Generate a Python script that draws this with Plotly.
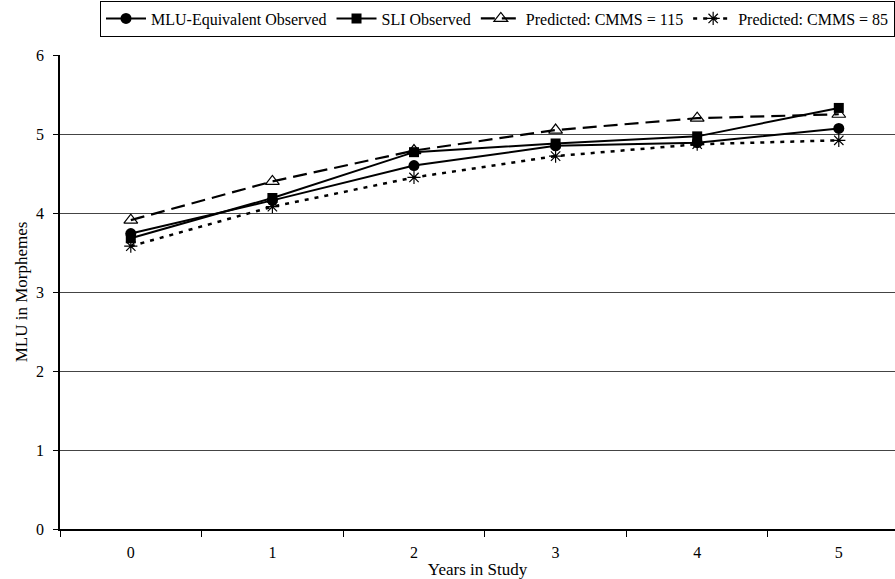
import plotly.graph_objects as go

years = ["0", "1", "2", "3", "4", "5"]
mlu_equiv = [3.74, 4.16, 4.60, 4.85, 4.89, 5.07]
sli_obs = [3.68, 4.19, 4.77, 4.88, 4.97, 5.33]
pred_115 = [3.91, 4.40, 4.79, 5.05, 5.20, 5.25]
pred_85 = [3.58, 4.08, 4.45, 4.72, 4.87, 4.92]

FONT = "Liberation Serif"

fig = go.Figure()
fig.add_trace(go.Scatter(x=years, y=mlu_equiv, name="MLU-Equivalent Observed",
                         mode="lines+markers",
                         line=dict(color="black", width=2),
                         marker=dict(symbol="circle", size=11, color="black")))
fig.add_trace(go.Scatter(x=years, y=sli_obs, name="SLI Observed",
                         mode="lines+markers",
                         line=dict(color="black", width=2),
                         marker=dict(symbol="square", size=10, color="black")))
fig.add_trace(go.Scatter(x=years, y=pred_115, name="Predicted: CMMS = 115",
                         mode="lines+markers",
                         line=dict(color="black", width=2.2, dash="14px,7px"),
                         marker=dict(symbol="triangle-up-open", size=12, color="black",
                                     line=dict(width=1.2, color="black"))))
fig.add_trace(go.Scatter(x=years, y=pred_85, name="Predicted: CMMS = 85",
                         mode="lines+markers",
                         line=dict(color="black", width=2.5, dash="4px,6px"),
                         marker=dict(symbol="asterisk-open", size=11, color="black",
                                     line=dict(width=1.2, color="black"))))

fig.update_layout(
    width=895, height=579,
    margin=dict(l=60, r=0, t=54.5, b=50, autoexpand=False),
    paper_bgcolor="white", plot_bgcolor="white",
    font=dict(family=FONT, size=16, color="black"),
    showlegend=True,
    legend=dict(orientation="h", x=1.0, xanchor="right", y=1 - 18.5 / 579, yanchor="middle",
                yref="container", xref="paper",
                bordercolor="black", borderwidth=1, bgcolor="white",
                font=dict(family=FONT, size=16), tracegroupgap=0,
                itemwidth=40),
    xaxis=dict(type="category", range=[-0.5, 5.397],
               tickson="boundaries", ticks="outside", ticklen=6,
               tickcolor="black", showline=True, linecolor="black", linewidth=1.5,
               showgrid=False, zeroline=False, ticklabelstandoff=8,
               title=dict(text="Years in Study", font=dict(family=FONT, size=17), standoff=4),
               tickfont=dict(family=FONT, size=16)),
    yaxis=dict(range=[0, 6], dtick=1, tick0=0, ticks="outside", ticklen=5,
               tickcolor="black", showline=True, linecolor="black", linewidth=1.5,
               showgrid=True, gridcolor="#444444", gridwidth=1, zeroline=False,
               ticklabelstandoff=6,
               title=dict(text="MLU in Morphemes", font=dict(family=FONT, size=17), standoff=4),
               tickfont=dict(family=FONT, size=16)),
)

fig.write_html("out.html", config={"displayModeBar": False},
               post_script="document.body.style.margin='0px';document.body.style.overflow='hidden';")
